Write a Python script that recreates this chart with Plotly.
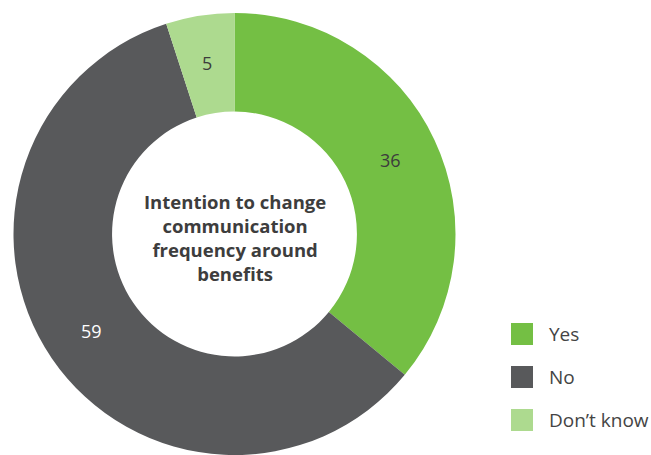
import math
import plotly.graph_objects as go

# Survey responses (percent)
labels = ["Yes", "No", "Don\u2019t know"]
values = [36, 59, 5]
colors = ["#74BF44", "#58595B", "#ADDA8F"]
text_colors = ["#3C3C3C", "#FFFFFF", "#3C3C3C"]
center_title = "Intention to change<br>communication<br>frequency around<br>benefits"

W, H = 651, 455
FONT = "Open Sans"

# Donut geometry in pixels
cx, cy = 234.5, 234.0
r_out = 221.0
hole = 0.554
r_in = r_out * hole

fig = go.Figure()
fig.add_trace(go.Pie(
    labels=labels,
    values=values,
    sort=False,
    direction="clockwise",
    rotation=0,
    hole=hole,
    marker=dict(colors=colors, line=dict(width=0)),
    textinfo="none",
    domain=dict(x=[(cx - r_out) / W, (cx + r_out) / W], y=[0, 2 * r_out / H]),
    showlegend=False,
    hoverinfo="label+value",
))

annotations = [dict(
    text="<b>" + center_title + "</b>",
    x=cx / W, y=1 - 237 / H, xref="paper", yref="paper",
    xanchor="center", yanchor="middle", showarrow=False,
    font=dict(family=FONT, size=18.5, color="#3D3D3D"),
    align="center",
)]

# Value labels placed at the middle of each slice, halfway across the ring
total = sum(values)
r_mid = (r_out + r_in) / 2 + 1
cum = 0
for v, tc in zip(values, text_colors):
    ang = 2 * math.pi * (cum + v / 2) / total  # clockwise from 12 o'clock
    cum += v
    px = cx + r_mid * math.sin(ang)
    py = cy - r_mid * math.cos(ang)
    annotations.append(dict(
        text=str(v), x=px / W, y=1 - py / H, xref="paper", yref="paper",
        xanchor="center", yanchor="middle", showarrow=False,
        font=dict(family=FONT, size=18, color=tc),
    ))

shapes = []
# Custom legend: large square swatches with labels
leg_x0, leg_size, leg_top, leg_step = 511, 22, 323, 43
for i, (lab, col) in enumerate(zip(labels, colors)):
    y0 = leg_top + i * leg_step
    shapes.append(dict(
        type="rect", xref="paper", yref="paper",
        x0=leg_x0 / W, x1=(leg_x0 + leg_size) / W,
        y0=1 - (y0 + leg_size) / H, y1=1 - y0 / H,
        fillcolor=col, line=dict(width=0),
    ))
    annotations.append(dict(
        text=lab, x=547 / W, y=1 - (y0 + leg_size / 2) / H,
        xref="paper", yref="paper", xanchor="left", yanchor="middle",
        showarrow=False, font=dict(family=FONT, size=19, color="#444444"),
    ))

fig.update_layout(
    width=W, height=H,
    margin=dict(l=0, r=0, t=0, b=0),
    paper_bgcolor="white", plot_bgcolor="white",
    annotations=annotations, shapes=shapes,
)

fig.write_html("out.html")
